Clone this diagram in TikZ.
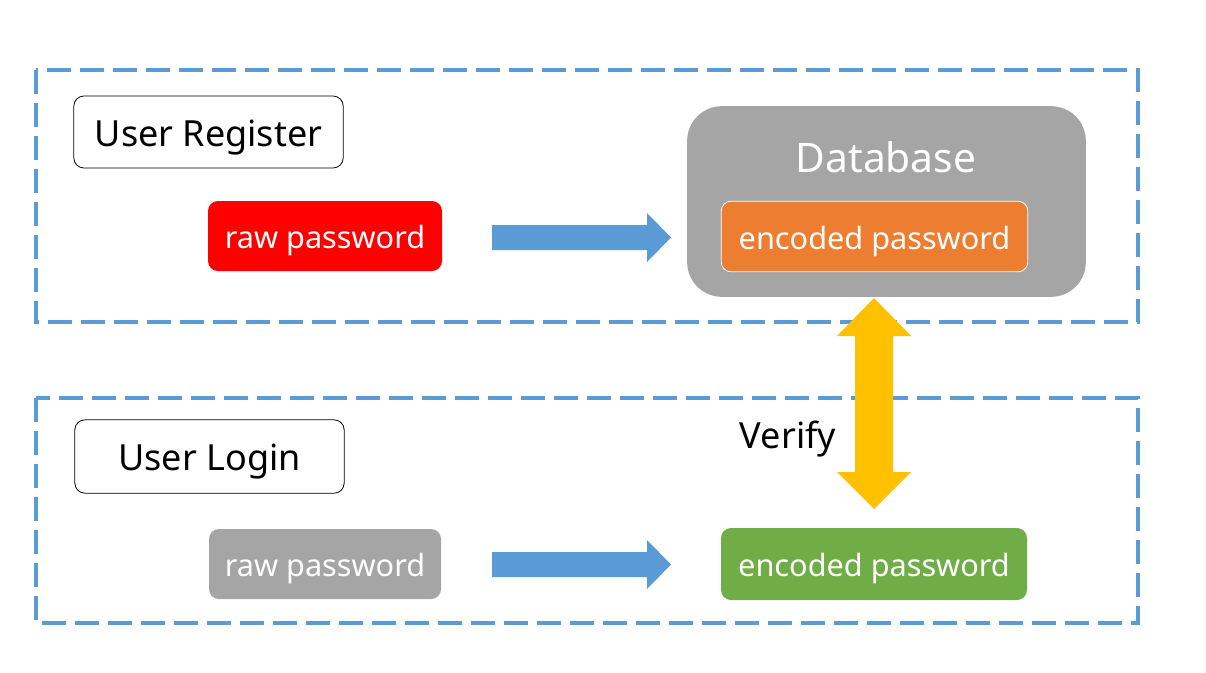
\documentclass[tikz,border=0pt]{standalone}
\usepackage{fontspec}
\setmainfont{Noto Sans}
\usetikzlibrary{calc}
\definecolor{dashblue}{HTML}{5B9BD5}
\definecolor{dbgray}{HTML}{A5A5A5}
\definecolor{encorange}{HTML}{ED7D31}
\definecolor{encgreen}{HTML}{70AD47}
\definecolor{verifyyellow}{HTML}{FFC000}
\definecolor{rawred}{HTML}{FF0000}
\tikzset{
  groupbox/.style={draw=dashblue, line width=2.3pt, dash pattern=on 18pt off 6.75pt},
  labelbox/.style={draw=black, line width=0.6pt, rounded corners=7.5pt, inner sep=0pt, text height=21.5pt, text depth=0pt, font=\fontsize{27}{32}\selectfont},
  pwbox/.style={rounded corners=7.5pt, inner sep=0pt, text=white, text height=18.8pt, text depth=0pt, font=\fontsize{23}{28}\selectfont},
  blockarrow/.style={fill=dashblue},
}
\begin{document}
\begin{tikzpicture}[x=0.75pt,y=-0.75pt]
\useasboundingbox (0,0) rectangle (1206,672);
\fill[white] (0,0) rectangle (1206,672);

% group frames
\draw[groupbox] (36,70) rectangle (1138,322);
\draw[groupbox] (36,398) rectangle (1138,623);

% register row
\node[labelbox, minimum width=202pt, minimum height=54pt] (reg) at (208.5,132) {User Register};
\node[pwbox, fill=rawred, minimum width=175.5pt, minimum height=52.5pt] (rawreg) at (325,236) {raw password};
\node[fill=dbgray, rounded corners=26pt, minimum width=299pt, minimum height=143pt, inner sep=0pt] (db) at (886.5,201.5) {};
\node[text=white, font=\fontsize{30.5}{36}\selectfont, inner sep=0pt, anchor=base] (dbtitle) at (886,172) {Database};
\node[pwbox, fill=encorange, draw=white, line width=0.6pt, minimum width=230pt, minimum height=53pt] (encdb) at (874.5,236.5) {encoded password};

% login row
\node[labelbox, minimum width=202pt, minimum height=55pt] (login) at (209.5,456.5) {User Login};
\node[pwbox, fill=dbgray, minimum width=174pt, minimum height=52.5pt] (rawlog) at (325,564) {raw password};
\node[pwbox, fill=encgreen, minimum width=229.5pt, minimum height=54pt] (enclog) at (874,564) {encoded password};

% horizontal block arrows
\coordinate (a1s) at (492,237.5);
\coordinate (a1e) at (671,237.5);
\fill[blockarrow] (a1s) ++(0,-12.5) -- ++(155,0) -- ++(0,-12) -- (a1e) -- ++(-24,24.5) -- ++(0,-12) -- ++(-155,0) -- cycle;
\coordinate (a2s) at (492,564.5);
\coordinate (a2e) at (671,564.5);
\fill[blockarrow] (a2s) ++(0,-12.5) -- ++(155,0) -- ++(0,-12) -- (a2e) -- ++(-24,24.5) -- ++(0,-12) -- ++(-155,0) -- cycle;

% verify double arrow
\coordinate (vt) at (874,298);
\coordinate (vb) at (874,509);
\fill[verifyyellow] (vt) -- ++(37,38) -- ++(-18,0) -- ++(0,136) -- ++(18,0) -- (vb) -- ++(-37,-37) -- ++(18,0) -- ++(0,-136) -- ++(-18,0) -- cycle;
\node[font=\fontsize{27}{32}\selectfont, inner sep=0pt, anchor=base] (verify) at (788,448) {Verify};
\end{tikzpicture}
\end{document}
